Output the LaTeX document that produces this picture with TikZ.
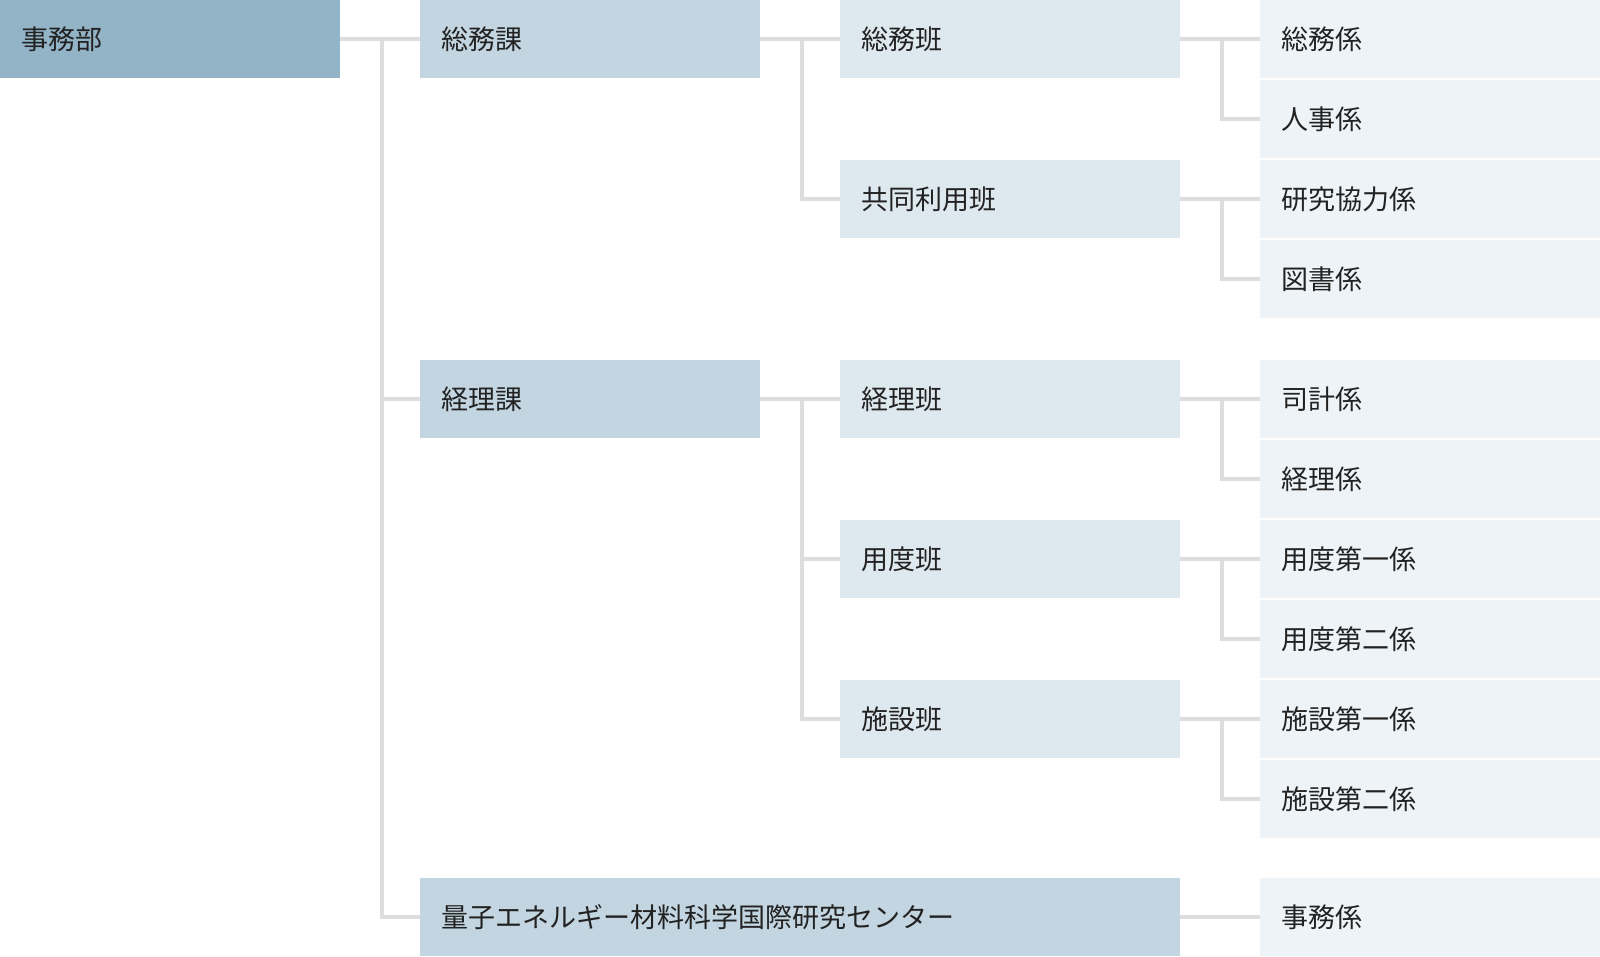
\documentclass[tikz,border=0pt]{standalone}
\usepackage{fontspec}
\newfontfamily\jpfont{Noto Sans CJK JP}
\definecolor{cA}{HTML}{93B3C7}
\definecolor{cB}{HTML}{C2D5E0}
\definecolor{cC}{HTML}{DEE8EF}
\definecolor{cD}{HTML}{EEF3F7}
\definecolor{lineC}{HTML}{DDDDDD}
\definecolor{txtC}{HTML}{222222}
\tikzset{
  box/.style={anchor=north west, rectangle, inner ysep=0pt, inner xsep=21pt,
    text width=298pt, minimum height=78pt, align=left, text=txtC,
    font=\jpfont\fontsize{27}{32}\selectfont},
  lvA/.style={box, fill=cA},
  lvB/.style={box, fill=cB},
  lvC/.style={box, fill=cC},
  lvD/.style={box, fill=cD},
  conn/.style={draw=lineC, line width=4pt}
}
\begin{document}
\begin{tikzpicture}[x=1pt,y=-1pt]
\useasboundingbox (0,0) rectangle (1600,956);
% column 1
\node[lvA] (jimubu) at (0,0) {事務部};
% column 2
\node[lvB] (soumuka) at (420,0) {総務課};
\node[lvB] (keirika) at (420,360) {経理課};
\node[lvB, text width=718pt] (center) at (420,878) {量子エネルギー材料科学国際研究センター};
% column 3
\node[lvC] (soumuhan) at (840,0) {総務班};
\node[lvC] (kyodo) at (840,160) {共同利用班};
\node[lvC] (keirihan) at (840,360) {経理班};
\node[lvC] (yodohan) at (840,520) {用度班};
\node[lvC] (shisetsuhan) at (840,680) {施設班};
% column 4
\node[lvD] (d1) at (1260,0) {総務係};
\node[lvD] (d2) at (1260,80) {人事係};
\node[lvD] (d3) at (1260,160) {研究協力係};
\node[lvD] (d4) at (1260,240) {図書係};
\node[lvD] (d5) at (1260,360) {司計係};
\node[lvD] (d6) at (1260,440) {経理係};
\node[lvD] (d7) at (1260,520) {用度第一係};
\node[lvD] (d8) at (1260,600) {用度第二係};
\node[lvD] (d9) at (1260,680) {施設第一係};
\node[lvD] (d10) at (1260,760) {施設第二係};
\node[lvD] (d11) at (1260,878) {事務係};
% junctions
\coordinate (j1) at ([xshift=42pt]jimubu.east);
\coordinate (j2) at ([xshift=42pt]soumuka.east);
\coordinate (j3) at ([xshift=42pt]keirika.east);
\coordinate (j4) at ([xshift=42pt]soumuhan.east);
\coordinate (j5) at ([xshift=42pt]kyodo.east);
\coordinate (j6) at ([xshift=42pt]keirihan.east);
\coordinate (j7) at ([xshift=42pt]yodohan.east);
\coordinate (j8) at ([xshift=42pt]shisetsuhan.east);
% connectors level 1
\draw[conn] (jimubu.east) -- (soumuka.west);
\draw[conn] (j1) |- (keirika.west);
\draw[conn] (j1) |- (center.west);
% level 2
\draw[conn] (soumuka.east) -- (soumuhan.west);
\draw[conn] (j2) |- (kyodo.west);
\draw[conn] (keirika.east) -- (keirihan.west);
\draw[conn] (j3) |- (yodohan.west);
\draw[conn] (j3) |- (shisetsuhan.west);
% level 3
\draw[conn] (soumuhan.east) -- (d1.west);
\draw[conn] (j4) |- (d2.west);
\draw[conn] (kyodo.east) -- (d3.west);
\draw[conn] (j5) |- (d4.west);
\draw[conn] (keirihan.east) -- (d5.west);
\draw[conn] (j6) |- (d6.west);
\draw[conn] (yodohan.east) -- (d7.west);
\draw[conn] (j7) |- (d8.west);
\draw[conn] (shisetsuhan.east) -- (d9.west);
\draw[conn] (j8) |- (d10.west);
\draw[conn] (center.east) -- (d11.west);
\end{tikzpicture}
\end{document}
